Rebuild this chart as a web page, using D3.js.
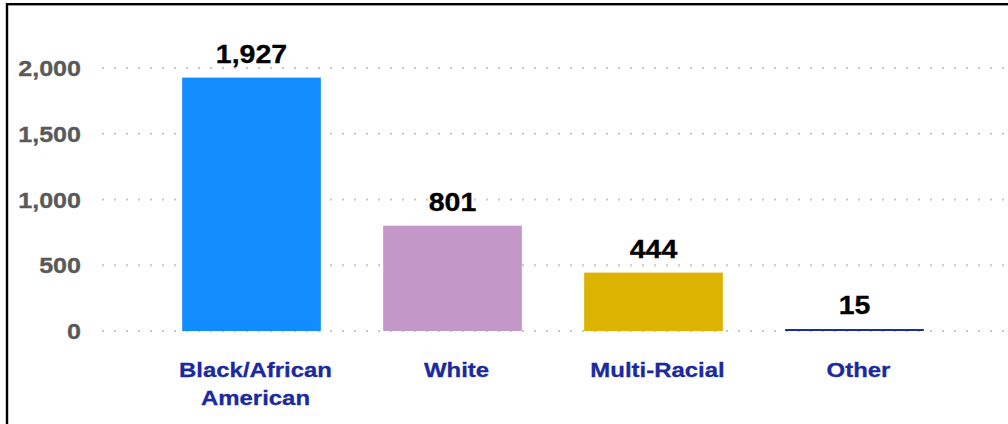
<!DOCTYPE html>
<html>
<head>
<meta charset="utf-8">
<script src="https://cdn.jsdelivr.net/npm/d3@7"></script>
<style>
  body { margin: 0; background: #fff; }
  svg { display: block; font-family: "Liberation Sans", Arial, sans-serif; }
</style>
</head>
<body>
<div id="chart"></div>
<script>
const width = 1008;
const height = 424;

const categories = ["Black/African American", "White", "Multi-Racial", "Other"];
const labelLines = [["Black/African", "American"], ["White"], ["Multi-Racial"], ["Other"]];
const values = [1927, 801, 444, 15];
const barColors = ["#118dff", "#c497c9", "#dbb300", "#1a2ba0"];
const yTicks = [0, 500, 1000, 1500, 2000];

// the text in the picture is a wide bold face, so stretch it a bit
const stretch = 1.14;

const svg = d3
  .select("#chart")
  .append("svg")
  .attr("width", width)
  .attr("height", height);

// frame
svg
  .append("rect")
  .attr("x", 7)
  .attr("y", 4.2)
  .attr("width", width + 10)
  .attr("height", height + 10)
  .attr("fill", "none")
  .attr("stroke", "#000")
  .attr("stroke-width", 2.4);

const x = d3
  .scaleBand()
  .domain(categories)
  .range([151, 955])
  .paddingInner(0.31)
  .paddingOuter(0.155);

const y = d3.scaleLinear().domain([0, 2000]).range([331, 68]);

// grid lines (dotted)
svg
  .append("g")
  .selectAll("line")
  .data(yTicks)
  .enter()
  .append("line")
  .attr("x1", 102)
  .attr("x2", width)
  .attr("y1", (d) => y(d))
  .attr("y2", (d) => y(d))
  .attr("stroke", "#c8c8c8")
  .attr("stroke-width", 2)
  .attr("stroke-dasharray", "2,10");

// y tick labels
svg
  .append("g")
  .selectAll("text")
  .data(yTicks)
  .enter()
  .append("text")
  .attr("transform", (d) => `translate(81,${y(d) + 8}) scale(${stretch},1)`)
  .attr("text-anchor", "end")
  .attr("fill", "#595959")
  .attr("font-weight", "bold")
  .attr("font-size", 22)
  .attr("stroke", "#595959")
  .attr("stroke-width", 0.3)
  .text((d) => d3.format(",")(d));

// bars
svg
  .append("g")
  .selectAll("rect")
  .data(values)
  .enter()
  .append("rect")
  .attr("x", (d, i) => x(categories[i]))
  .attr("width", x.bandwidth())
  .attr("y", (d) => y(d))
  .attr("height", (d) => y(0) - y(d))
  .attr("fill", (d, i) => barColors[i]);

// value labels
svg
  .append("g")
  .selectAll("text")
  .data(values)
  .enter()
  .append("text")
  .attr(
    "transform",
    (d, i) =>
      `translate(${x(categories[i]) + x.bandwidth() / 2},${y(d) - 15}) scale(${stretch},1)`
  )
  .attr("text-anchor", "middle")
  .attr("fill", "#000")
  .attr("font-weight", "bold")
  .attr("font-size", 25)
  .attr("stroke", "#000")
  .attr("stroke-width", 0.3)
  .text((d) => d3.format(",")(d));

// category labels
const catLabels = svg
  .append("g")
  .selectAll("text")
  .data(categories)
  .enter()
  .append("text")
  .attr(
    "transform",
    (d) => `translate(${x(d) + x.bandwidth() / 2 + 4},377) scale(${stretch},1)`
  )
  .attr("text-anchor", "middle")
  .attr("fill", "#1a2a9e")
  .attr("stroke", "#1a2a9e")
  .attr("stroke-width", 0.3)
  .attr("font-weight", "bold")
  .attr("font-size", 21);

catLabels
  .selectAll("tspan")
  .data((d, i) => labelLines[i])
  .enter()
  .append("tspan")
  .attr("x", 0)
  .attr("dy", (d, i) => (i === 0 ? 0 : 28))
  .text((d) => d);
</script>
</body>
</html>
